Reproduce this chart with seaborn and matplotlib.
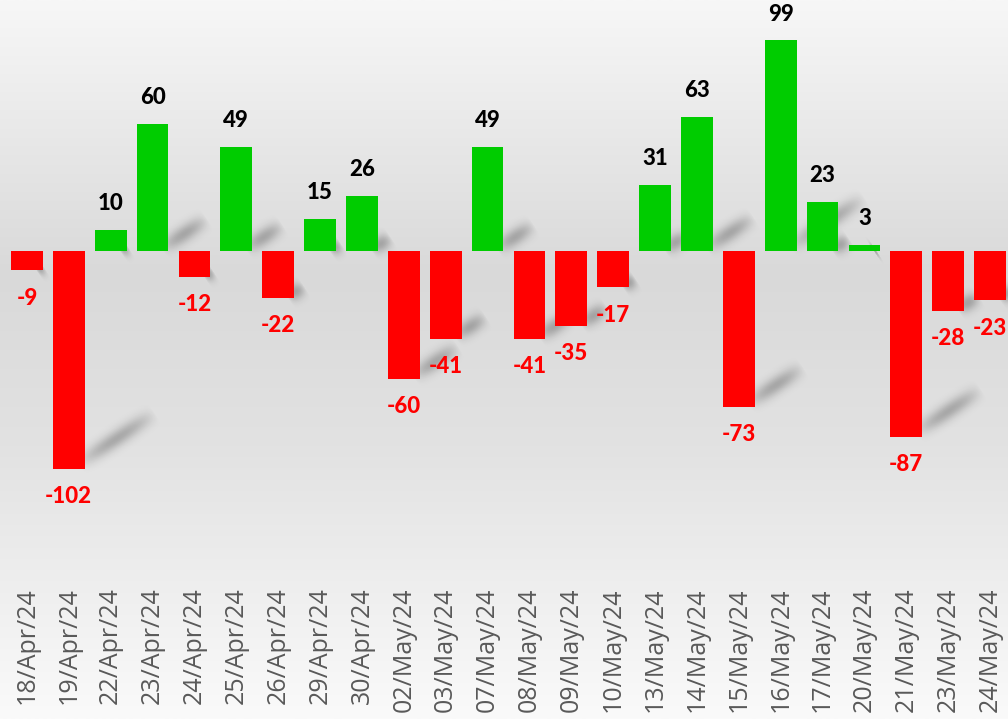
import numpy as np
import pandas as pd
import matplotlib
matplotlib.use("Agg")
import matplotlib.pyplot as plt
from matplotlib.colors import LinearSegmentedColormap
import seaborn as sns

dates = ["18/Apr/24", "19/Apr/24", "22/Apr/24", "23/Apr/24", "24/Apr/24", "25/Apr/24",
         "26/Apr/24", "29/Apr/24", "30/Apr/24", "02/May/24", "03/May/24", "07/May/24",
         "08/May/24", "09/May/24", "10/May/24", "13/May/24", "14/May/24", "15/May/24",
         "16/May/24", "17/May/24", "20/May/24", "21/May/24", "23/May/24", "24/May/24"]
values = [-9, -102, 10, 60, -12, 49, -22, 15, 26, -60, -41, 49,
          -41, -35, -17, 31, 63, -73, 99, 23, 3, -87, -28, -23]

df = pd.DataFrame({"date": dates, "value": values})
df["sign"] = np.where(df["value"] >= 0, "up", "down")

sns.set_style("white")
plt.rcParams["font.family"] = ["Open Sans", "DejaVu Sans"]

W, H = 1008, 719
fig = plt.figure(figsize=(W / 100, H / 100), dpi=100)

# background gradient
bg = fig.add_axes([0, 0, 1, 1], zorder=0)
grad_cmap = LinearSegmentedColormap.from_list(
    "bg", [(0.0, "#f7f7f7"), (0.38, "#d9d9d9"), (0.62, "#e2e2e2"), (1.0, "#fafafa")])
bg.imshow(np.linspace(0, 1, 256).reshape(-1, 1), aspect="auto", cmap=grad_cmap,
          extent=[0, 1, 0, 1], origin="upper")
bg.axis("off")

ax_w, ax_h = 1005, 575
ax = fig.add_axes([6 / W, (H - ax_h) / H, ax_w / W, ax_h / H], zorder=1)
ax.patch.set_alpha(0)

xlim = (-0.5, len(dates) - 0.5)
ylim = (-152, 118)

sns.barplot(data=df, x="date", y="value", hue="sign",
            palette={"up": "#00cc00", "down": "#ff0000"},
            dodge=False, width=0.76, legend=False, saturation=1,
            linewidth=0, ax=ax)
for p in ax.patches:
    p.set_zorder(2)

# soft perspective shadows behind the bars (blurred streaks, built in pixel space)
sx = ax_w / (xlim[1] - xlim[0])
sy = ax_h / (ylim[1] - ylim[0])
gx, gy = np.meshgrid(np.arange(ax_w) + 0.5, np.arange(ax_h) + 0.5)
shade = np.zeros((ax_h, ax_w))
for i, v in enumerate(values):
    base = 0 if v >= 0 else v
    p0 = np.array([(i + 0.22 - xlim[0]) * sx, (base + 0.02 * abs(v) - ylim[0]) * sy])
    d = np.array([0.018 * abs(v) * sx, 0.235 * abs(v) * sy])
    L2 = d @ d
    t = ((gx - p0[0]) * d[0] + (gy - p0[1]) * d[1]) / L2
    px = p0[0] + t * d[0]
    py = p0[1] + t * d[1]
    dist = np.hypot(gx - px, gy - py)
    prof = np.clip(np.sin(np.pi * np.clip(t, 0, 1)), 0, 1) ** 0.8
    shade += 0.25 * prof * np.exp(-(dist / 8.0) ** 2)
shade = np.clip(shade, 0, 0.3)
rgba = np.zeros((ax_h, ax_w, 4))
rgba[..., 3] = shade
ax.imshow(rgba, extent=[xlim[0], xlim[1], ylim[0], ylim[1]], origin="lower",
          aspect="auto", zorder=1, interpolation="bilinear")

ax.set_xlim(*xlim)
ax.set_ylim(*ylim)
ax.set_xlabel("")
ax.set_ylabel("")
ax.set_yticks([])
for s in ax.spines.values():
    s.set_visible(False)
ax.tick_params(axis="x", length=0, pad=9, labelsize=18, labelcolor="#595959",
               rotation=90)

for i, v in enumerate(values):
    off = 19 if v >= 0 else -20
    ax.annotate(str(v), (i, v), xytext=(0, off), textcoords="offset points",
                ha="center", va="center", fontsize=16, fontweight=900,
                family=["Lato", "DejaVu Sans"],
                color="black" if v >= 0 else "#ff0000", zorder=3)

fig.savefig("out.png", dpi=100)
